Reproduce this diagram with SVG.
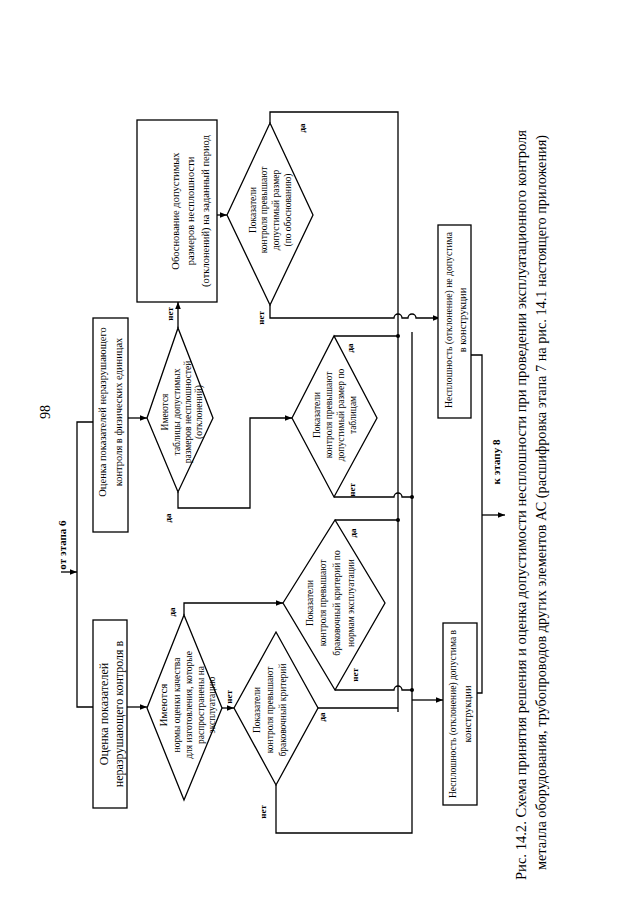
<svg xmlns="http://www.w3.org/2000/svg" width="640" height="905" viewBox="0 0 640 905">
<style>
.n{fill:#fff;stroke:#000;stroke-width:1.3}
.c{fill:none;stroke:#000;stroke-width:1.3}
text{font-family:"Liberation Serif","Times New Roman",serif;fill:#000}
.t{font-size:10.5px;text-anchor:middle}
.d{font-size:9.5px;text-anchor:middle}
.l{font-size:9px;font-weight:bold;text-anchor:middle}
.cap{font-size:14px}
</style>
<defs>
<marker id="a" viewBox="0 0 10 10" refX="10" refY="5" markerWidth="7" markerHeight="7" orient="auto" markerUnits="userSpaceOnUse"><path d="M0,1L10,5L0,9z"/></marker>
</defs>
<rect width="640" height="905" fill="#fff"/>
<text style="font-size:14px;text-anchor:middle" transform="translate(50,412) rotate(-90)">98</text>
<text class="l" style="font-size:11px" transform="translate(66,545) rotate(-90)">от этапа 6</text>

<g id="connectors">
<path class="c" d="M61,572H77" marker-end="url(#a)"/>
<path class="c" d="M93,422H77V707H93"/>
<path class="c" d="M128,418H147" marker-end="url(#a)"/>
<path class="c" d="M178,328V302" marker-end="url(#a)"/>
<path class="c" d="M178,492V508H250V418H292" marker-end="url(#a)"/>
<path class="c" d="M217,215H227" marker-end="url(#a)"/>
<path class="c" d="M270,123V112H398V712"/>
<path class="c" d="M270,305V318H394a4,4 0 0 1 8,0H408a4,4 0 0 1 8,0H440" marker-end="url(#a)"/>
<path class="c" d="M412,332V833H276V785"/>
<path class="c" d="M334,336H398"/>
<path class="c" d="M334,497H394a4,4 0 0 1 8,0H412"/>
<path class="c" d="M335,520H398"/>
<path class="c" d="M335,690H394a4,4 0 0 1 8,0H412"/>
<path class="c" d="M318,708H398"/>
<path class="c" d="M184,615V603H283" marker-end="url(#a)"/>
<path class="c" d="M127,707H147" marker-end="url(#a)"/>
<path class="c" d="M222,708H234" marker-end="url(#a)"/>
<path class="c" d="M412,700H443" marker-end="url(#a)"/>
<path class="c" d="M470,355H482V693H477"/>
<path class="c" d="M482,515H505" marker-end="url(#a)"/>
<circle cx="398" cy="336" r="2"/>
<circle cx="412" cy="497" r="2"/>
<circle cx="398" cy="520" r="2"/>
<circle cx="412" cy="690" r="2"/>
</g>

<g id="box-eval-phys">
<rect class="n" x="93" y="318" width="35" height="214"/>
<text class="t" transform="translate(106,412) rotate(-90)">Оценка показателей неразрушающего</text>
<text class="t" transform="translate(122,412) rotate(-90)">контроля в физических единицах</text>
</g>

<g id="dec-tables">
<polygon class="n" points="147,418 178,328 213,418 178,492"/>
<text class="d" transform="translate(168,412) rotate(-90)">Имеются</text>
<text class="d" transform="translate(180,412) rotate(-90)">таблицы допустимых</text>
<text class="d" transform="translate(191,412) rotate(-90)">размеров несплошностей</text>
<text class="d" transform="translate(202,412) rotate(-90)">(отклонений)</text>
<text class="l" transform="translate(173,314) rotate(-90)">нет</text>
<text class="l" transform="translate(171,518) rotate(-90)">да</text>
</g>

<g id="box-justify">
<rect class="n" x="137" y="120" width="80" height="182"/>
<text class="t" transform="translate(179,211) rotate(-90)">Обоснование допустимых</text>
<text class="t" transform="translate(194,211) rotate(-90)">размеров несплошности</text>
<text class="t" transform="translate(209,211) rotate(-90)">(отклонений) на заданный период</text>
</g>

<g id="dec-justify">
<polygon class="n" points="227,215 270,123 313,215 270,305"/>
<text class="d" transform="translate(256,210) rotate(-90)">Показатели</text>
<text class="d" transform="translate(267,210) rotate(-90)">контроля превышают</text>
<text class="d" transform="translate(279,210) rotate(-90)">допустимый размер</text>
<text class="d" transform="translate(291,210) rotate(-90)">(по обоснованию)</text>
<text class="l" transform="translate(305,128) rotate(-90)">да</text>
<text class="l" transform="translate(264,318) rotate(-90)">нет</text>
</g>

<g id="dec-table-size">
<polygon class="n" points="292,418 334,336 377,418 334,497"/>
<text class="d" transform="translate(320,415) rotate(-90)">Показатели</text>
<text class="d" transform="translate(332,415) rotate(-90)">контроля превышают</text>
<text class="d" transform="translate(344,415) rotate(-90)">допустимый размер по</text>
<text class="d" transform="translate(356,415) rotate(-90)">таблицам</text>
<text class="l" transform="translate(353,348) rotate(-90)">да</text>
<text class="l" transform="translate(355,490) rotate(-90)">нет</text>
</g>

<g id="dec-norms-op">
<polygon class="n" points="283,603 335,520 385,603 335,690"/>
<text class="d" transform="translate(313,603) rotate(-90)">Показатели</text>
<text class="d" transform="translate(326,603) rotate(-90)">контроля превышают</text>
<text class="d" transform="translate(340,603) rotate(-90)">браковочный критерий по</text>
<text class="d" transform="translate(354,603) rotate(-90)">нормам эксплуатации</text>
<text class="l" transform="translate(356,533) rotate(-90)">да</text>
<text class="l" transform="translate(358,675) rotate(-90)">нет</text>
</g>

<g id="box-eval">
<rect class="n" x="93" y="620" width="34" height="188"/>
<text class="t" style="font-size:12px" transform="translate(108,714) rotate(-90)">Оценка показателей</text>
<text class="t" style="font-size:12px" transform="translate(123,714) rotate(-90)">неразрушающего контроля в</text>
</g>

<g id="dec-norms-mfg">
<polygon class="n" points="147,708 184,615 222,708 184,800"/>
<text class="d" style="font-size:11px" transform="translate(167,705) rotate(-90)">Имеются</text>
<text class="d" transform="translate(180,705) rotate(-90)">нормы оценки качества</text>
<text class="d" transform="translate(192,705) rotate(-90)">для изготовления, которые</text>
<text class="d" transform="translate(204,705) rotate(-90)">распространены на</text>
<text class="d" transform="translate(215,705) rotate(-90)">эксплуатацию</text>
<text class="l" transform="translate(175,612) rotate(-90)">да</text>
<text class="l" transform="translate(232,697) rotate(-90)">нет</text>
</g>

<g id="dec-crit">
<polygon class="n" points="234,708 276,632 318,708 276,785"/>
<text class="d" transform="translate(260,710) rotate(-90)">Показатели</text>
<text class="d" transform="translate(273,710) rotate(-90)">контроля превышают</text>
<text class="d" transform="translate(286,710) rotate(-90)">браковочный критерий</text>
<text class="l" transform="translate(325,717) rotate(-90)">да</text>
<text class="l" transform="translate(266,812) rotate(-90)">нет</text>
</g>

<g id="box-not-ok">
<rect class="n" x="438" y="225" width="33" height="193"/>
<text class="t" transform="translate(452,320) rotate(-90)" textLength="176" lengthAdjust="spacingAndGlyphs">Несплошность (отклонение) не допустима</text>
<text class="t" transform="translate(466,320) rotate(-90)">в конструкции</text>
</g>

<g id="box-ok">
<rect class="n" x="443" y="623" width="34" height="182"/>
<text class="t" transform="translate(456,714) rotate(-90)" textLength="168" lengthAdjust="spacingAndGlyphs">Несплошность (отклонение) допустима в</text>
<text class="t" transform="translate(471,714) rotate(-90)">конструкции</text>
</g>

<text class="l" style="font-size:11px" transform="translate(500,462) rotate(-90)">к этапу 8</text>

<text class="cap" transform="translate(526,880) rotate(-90)" textLength="750" lengthAdjust="spacingAndGlyphs">Рис. 14.2. Схема принятия решения и оценка допустимости несплошности при проведении эксплуатационного контроля</text>
<text class="cap" transform="translate(546,870) rotate(-90)" textLength="735" lengthAdjust="spacingAndGlyphs">металла оборудования, трубопроводов других элементов АС (расшифровка этапа 7 на рис. 14.1 настоящего приложения)</text>
</svg>
